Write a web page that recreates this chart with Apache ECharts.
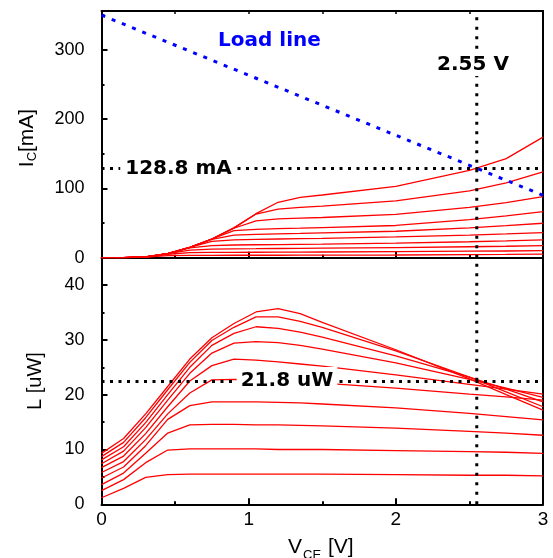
<!DOCTYPE html>
<html>
<head>
<meta charset="utf-8">
<script src="https://cdn.jsdelivr.net/npm/echarts@6/dist/echarts.min.js"></script>
<style>
  html, body { margin: 0; padding: 0; background: #fff; }
  #main { width: 553px; height: 558px; }
</style>
</head>
<body>
<div id="main"></div>
<script>
// V_CE sample points [V]
var vce = [0, 0.15, 0.3, 0.45, 0.6, 0.75, 0.9, 1.05, 1.2, 1.35, 1.5, 2.0, 2.5, 2.75, 3.0];

// collector current I_C [mA], one row per base current step (low -> high)
var icCurves = [
  [0, 0, 1.0, 3.0, 3.3, 3.4, 3.5, 3.5, 3.5, 3.6, 3.7, 3.9, 4.4, 4.8, 5.3],
  [0, 0, 1.0, 5.0, 7.3, 7.6, 7.8, 7.9, 8.0, 8.1, 8.2, 8.8, 9.4, 9.7, 10.1],
  [0, 0, 1.0, 5.8, 11.0, 12.3, 12.8, 13.0, 13.3, 13.5, 13.7, 14.6, 15.8, 16.5, 17.3],
  [0, 0, 1.0, 6.0, 14.2, 17.5, 18.3, 18.7, 19.0, 19.3, 19.6, 20.9, 23.0, 24.2, 25.6],
  [0, 0, 1.0, 6.0, 15.0, 23.5, 25.8, 26.5, 27.0, 27.5, 28.0, 30.0, 32.6, 34.3, 36.1],
  [0, 0, 1.0, 6.0, 15.0, 26.5, 32.5, 33.8, 34.5, 35.0, 35.7, 38.2, 43.0, 46.2, 49.7],
  [0, 0, 1.0, 6.0, 15.0, 27.0, 39.0, 41.0, 42.0, 42.7, 43.5, 46.5, 55.0, 60.5, 66.5],
  [0, 0, 1.0, 6.0, 15.0, 27.0, 42.5, 53.0, 56.0, 57.0, 58.0, 62.5, 72.5, 79.5, 88.0],
  [0, 0, 1.0, 6.0, 15.0, 27.0, 43.0, 63.0, 70.0, 72.5, 74.5, 82.0, 96.5, 108.0, 124.0],
  [0, 0, 1.0, 6.0, 15.0, 27.0, 43.0, 63.5, 80.0, 87.0, 90.5, 103.0, 126.0, 143.0, 174.0]
];

// light output L [uW], same base current steps
var lCurves = [
  [1.2, 2.9, 4.9, 5.4, 5.5, 5.5, 5.5, 5.5, 5.5, 5.5, 5.5, 5.4, 5.3, 5.3, 5.2],
  [2.5, 4.5, 7.6, 9.9, 10.1, 10.1, 10.1, 10.1, 10.0, 10.0, 10.0, 9.8, 9.6, 9.5, 9.3],
  [3.6, 5.7, 9.3, 13.0, 14.5, 14.6, 14.6, 14.5, 14.5, 14.4, 14.3, 13.9, 13.3, 13.0, 12.6],
  [4.8, 6.8, 10.7, 15.5, 18.0, 18.7, 18.7, 18.7, 18.6, 18.5, 18.3, 17.6, 16.6, 16.0, 15.4],
  [5.8, 7.8, 11.8, 16.5, 20.3, 22.7, 22.8, 22.7, 22.5, 22.3, 22.1, 21.2, 20.1, 19.6, 19.0],
  [6.7, 8.8, 12.9, 17.8, 22.5, 25.3, 26.5, 26.3, 26.0, 25.6, 25.2, 23.6, 21.9, 21.0, 20.1],
  [7.4, 9.7, 14.0, 19.0, 23.9, 27.6, 29.4, 29.7, 29.5, 29.0, 28.3, 25.8, 22.8, 21.2, 19.5],
  [8.1, 10.5, 14.9, 20.0, 25.0, 29.0, 31.2, 32.4, 32.1, 31.4, 30.5, 27.1, 23.2, 21.0, 18.7],
  [8.7, 11.3, 15.8, 20.9, 25.9, 29.9, 32.3, 34.2, 34.2, 33.4, 32.3, 28.0, 23.2, 20.5, 17.8],
  [9.3, 12.0, 16.5, 21.5, 26.5, 30.4, 33.0, 35.1, 35.7, 34.8, 33.2, 28.2, 22.9, 20.0, 17.2]
];

// load line end points
var loadV = [0, 3];
var loadIc = [350, 90];

// operating point markers
var opV = 2.55;
var opIc = 128.8;
var opL = 22.4;

var icMax = 356;
var lMax = 45;

var red = '#ff0000';
var fontTick = 'Liberation Sans';

function pts(xs, ys) {
  return xs.map(function (x, i) { return [x, ys[i]]; });
}

var series = [];
icCurves.forEach(function (row) {
  series.push({
    type: 'line', xAxisIndex: 0, yAxisIndex: 0, data: pts(vce, row),
    symbol: 'none', lineStyle: { color: red, width: 1.3 }, z: 2
  });
});
lCurves.forEach(function (row) {
  series.push({
    type: 'line', xAxisIndex: 2, yAxisIndex: 3, data: pts(vce, row),
    symbol: 'none', lineStyle: { color: red, width: 1.3 }, z: 2
  });
});
// load line
series.push({
  type: 'line', xAxisIndex: 0, yAxisIndex: 0, data: pts(loadV, loadIc),
  symbol: 'none', lineStyle: { color: '#0000ff', width: 3, type: [4, 7] }, z: 4
});
// dotted guides
var dotH = { color: '#000', width: 3, type: [3, 5.5] };
var dotV = { color: '#000', width: 3, type: [3, 6.5] };
series.push({
  type: 'line', xAxisIndex: 0, yAxisIndex: 0, data: [[0, opIc], [3, opIc]],
  symbol: 'none', lineStyle: dotH, z: 5
});
series.push({
  type: 'line', xAxisIndex: 0, yAxisIndex: 0, data: [[opV, 0], [opV, icMax]],
  symbol: 'none', lineStyle: dotV, z: 5
});
series.push({
  type: 'line', xAxisIndex: 2, yAxisIndex: 3, data: [[0, opL], [3, opL]],
  symbol: 'none', lineStyle: dotH, z: 5
});
series.push({
  type: 'line', xAxisIndex: 2, yAxisIndex: 3, data: [[opV, 0], [opV, lMax]],
  symbol: 'none', lineStyle: dotV, z: 5
});

var axLine = { show: true, onZero: false, lineStyle: { color: '#000', width: 2 } };
var tickLbl = { fontFamily: fontTick, fontSize: 18, color: '#000' };

var option = {
  animation: false,
  backgroundColor: '#fff',
  grid: [
    { left: 101.5, top: 11, width: 441.5, height: 246.7 },
    { left: 101.5, top: 257.7, width: 441.5, height: 246.6 }
  ],
  xAxis: [
    {
      gridIndex: 0, type: 'value', position: 'bottom', min: 0, max: 3, interval: 1,
      axisLine: axLine, splitLine: { show: false }, axisLabel: { show: false },
      axisTick: { inside: true, length: 6, lineStyle: { color: '#000', width: 2 } },
      minorTick: { show: true, splitNumber: 2, length: 3, lineStyle: { color: '#000', width: 2 } }
    },
    {
      gridIndex: 0, type: 'value', position: 'top', min: 0, max: 3, interval: 1,
      axisLine: axLine, splitLine: { show: false }, axisLabel: { show: false },
      axisTick: { inside: true, length: 3, lineStyle: { color: '#000', width: 1.5 } },
      minorTick: { show: true, splitNumber: 2, length: 3, lineStyle: { color: '#000', width: 1.5 } }
    },
    {
      gridIndex: 1, type: 'value', position: 'bottom', min: 0, max: 3, interval: 1,
      axisLine: axLine, splitLine: { show: false },
      axisLabel: Object.assign({ margin: 6 }, tickLbl, { fontSize: 19 }),
      axisTick: { inside: true, length: 6, lineStyle: { color: '#000', width: 2 } },
      minorTick: { show: true, splitNumber: 2, length: 3, lineStyle: { color: '#000', width: 2 } }
    }
  ],
  yAxis: [
    {
      gridIndex: 0, type: 'value', position: 'left', min: 0, max: icMax, interval: 100,
      axisLine: axLine, splitLine: { show: false },
      axisLabel: Object.assign({ margin: 17, showMaxLabel: false }, tickLbl),
      axisTick: { inside: true, length: 6, lineStyle: { color: '#000', width: 2 } }
    },
    {
      gridIndex: 0, type: 'value', position: 'left', min: 0, max: icMax, interval: 50,
      axisLine: { show: false }, splitLine: { show: false }, axisLabel: { show: false },
      axisTick: { inside: true, length: 3, lineStyle: { color: '#000', width: 2 } }
    },
    {
      gridIndex: 0, type: 'value', position: 'right', min: 0, max: icMax,
      axisLine: axLine, splitLine: { show: false }, axisLabel: { show: false }, axisTick: { show: false }
    },
    {
      gridIndex: 1, type: 'value', position: 'left', min: 0, max: lMax, interval: 10,
      axisLine: axLine, splitLine: { show: false },
      axisLabel: Object.assign({ margin: 17, showMaxLabel: false }, tickLbl),
      axisTick: { inside: true, length: 6, lineStyle: { color: '#000', width: 2 } }
    },
    {
      gridIndex: 1, type: 'value', position: 'left', min: 0, max: lMax, interval: 5,
      axisLine: { show: false }, splitLine: { show: false }, axisLabel: { show: false },
      axisTick: { inside: true, length: 3, lineStyle: { color: '#000', width: 2 } }
    },
    {
      gridIndex: 1, type: 'value', position: 'right', min: 0, max: lMax,
      axisLine: axLine, splitLine: { show: false }, axisLabel: { show: false }, axisTick: { show: false }
    }
  ],
  graphic: [
    // axis titles
    {
      type: 'text', x: 27, y: 138, rotation: Math.PI / 2, z: 100,
      style: {
        text: '{a|I}{s|C}{a|[mA]}', fill: '#000', align: 'center', verticalAlign: 'middle',
        rich: {
          a: { fontFamily: fontTick, fontSize: 21, lineHeight: 24 },
          s: { fontFamily: fontTick, fontSize: 13, lineHeight: 13, verticalAlign: 'bottom' }
        }
      }
    },
    {
      type: 'text', x: 35, y: 381, rotation: Math.PI / 2, z: 100,
      style: {
        text: 'L [uW]', fill: '#000', align: 'center', verticalAlign: 'middle',
        font: '20px "Liberation Sans"'
      }
    },
    // V_CE [V], pieces placed separately so the subscript can sit low
    {
      type: 'text', x: 288, y: 558, z: 100,
      style: { text: 'V', fill: '#000', font: '21px "Liberation Sans"', align: 'left', verticalAlign: 'bottom' }
    },
    {
      type: 'text', x: 303, y: 549, z: 100,
      style: { text: 'CE', fill: '#000', font: '13px "Liberation Sans"', align: 'left', verticalAlign: 'top' }
    },
    {
      type: 'text', x: 328, y: 558, z: 100,
      style: { text: '[V]', fill: '#000', font: '21px "Liberation Sans"', align: 'left', verticalAlign: 'bottom' }
    },
    // annotations
    {
      type: 'text', x: 269.5, y: 41, z: 100,
      style: { text: 'Load line', fill: '#0000ff', font: 'bold 20px "DejaVu Sans"', align: 'center', verticalAlign: 'middle' }
    },
    {
      type: 'text', x: 473, y: 65, z: 100,
      style: {
        text: '2.55 V', fill: '#000', font: 'bold 20px "DejaVu Sans"', align: 'center', verticalAlign: 'middle',
        backgroundColor: '#fff', padding: [1, 4]
      }
    },
    {
      type: 'text', x: 178.5, y: 169, z: 100,
      style: {
        text: '128.8 mA', fill: '#000', font: 'bold 20px "DejaVu Sans"', align: 'center', verticalAlign: 'middle',
        backgroundColor: '#fff', padding: [2, 5]
      }
    },
    {
      type: 'text', x: 287, y: 381, z: 100,
      style: {
        text: '21.8 uW', fill: '#000', font: 'bold 20px "DejaVu Sans"', align: 'center', verticalAlign: 'middle',
        backgroundColor: '#fff', padding: [4, 4]
      }
    }
  ],
  series: series
};

var myChart = echarts.init(document.getElementById('main'));
myChart.setOption(option);
</script>
</body>
</html>
